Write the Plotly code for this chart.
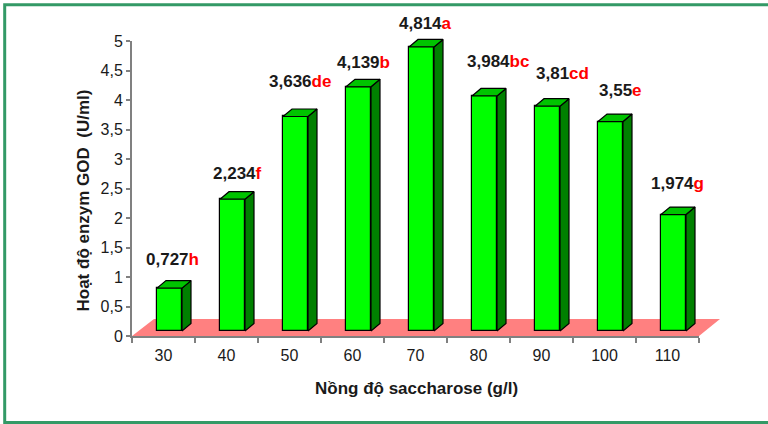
import plotly.graph_objects as go

# ---------------- data ----------------
categories = ["30", "40", "50", "60", "70", "80", "90", "100", "110"]
values = [0.727, 2.234, 3.636, 4.139, 4.814, 3.984, 3.81, 3.55, 1.974]
letters = ["h", "f", "de", "b", "a", "bc", "cd", "e", "g"]
y_ticks = [0, 0.5, 1, 1.5, 2, 2.5, 3, 3.5, 4, 4.5, 5]
y_ticktext = [str(t).replace(".", ",") if t != int(t) else str(int(t)) for t in y_ticks]

# ---------------- styling (pixel geometry) ----------------
W, H = 768, 424
AX_L, AX_R = 132, 699          # x axis pixel extent
Y0_PX, Y5_PX = 336, 41          # pixel of value 0 and 5
CAT_PX = (AX_R - AX_L) / len(categories)
VAL_PX = (Y0_PX - Y5_PX) / 5.0
BAR_SHIFT = 6        # bar front shifted right (px)
BAR_W = 25           # bar front width (px)
BAR_BASE = 5         # bar base above axis (px)
DEP_X, DEP_Y = 9, 7.5   # bar depth (px)
FLOOR_X, FLOOR_Y = 21, 17  # floor depth (px)
# label offsets relative to bar front top-centre (px)
label_dx = [3, 4.5, 4.5, 5, 3.5, 13.5, 15, 9.5, 4]
label_dy = [28.6, 25.2, 34.8, 24.3, 23.5, 34, 32.9, 30.7, 30.8]

FONT = "Arial, 'Liberation Sans', sans-serif"
AXIS_GRAY = "#808080"

px2x = lambda p: p / CAT_PX
px2y = lambda p: p / VAL_PX

n = len(categories)
b0 = px2y(BAR_BASE)
hw = px2x(BAR_W / 2)
dx, dy = px2x(DEP_X), px2y(DEP_Y)

fig = go.Figure()

# front faces: real bars
xs = [i + px2x(BAR_SHIFT) for i in range(n)]
fig.add_trace(go.Bar(
    x=xs, y=values, base=b0, width=2 * hw,
    marker=dict(color="#00FF00", line=dict(color="black", width=1.2)),
    hoverinfo="skip", showlegend=False, xaxis="x", yaxis="y",
))

# side and top faces
for i, v in enumerate(values):
    xl, xr = xs[i] - hw, xs[i] + hw
    top = b0 + v
    fig.add_trace(go.Scatter(
        x=[xr, xr + dx, xr + dx, xr, xr],
        y=[b0, b0 + dy, top + dy, top, b0],
        fill="toself", fillcolor="#008000", mode="lines",
        line=dict(color="black", width=1.2), hoverinfo="skip", showlegend=False,
    ))
    fig.add_trace(go.Scatter(
        x=[xl, xl + dx, xr + dx, xr, xl],
        y=[top, top + dy, top + dy, top, top],
        fill="toself", fillcolor="#00C400", mode="lines",
        line=dict(color="black", width=1.2), hoverinfo="skip", showlegend=False,
    ))

# invisible trace so the display axes show
fig.add_trace(go.Scatter(
    x=categories, y=[0] * n, mode="markers", marker=dict(opacity=0),
    xaxis="x2", yaxis="y2", hoverinfo="skip", showlegend=False,
))

# floor (below traces)
fl, fr = -0.5, n - 0.5
fig.add_shape(type="path", xref="x", yref="y", layer="below",
              path=f"M {fl},0 L {fr},0 L {fr + px2x(FLOOR_X)},{px2y(FLOOR_Y)} "
                   f"L {fl + px2x(FLOOR_X + 1)},{px2y(FLOOR_Y)} Z",
              fillcolor="#FF8080", line=dict(width=0))

# value labels
for i, (v, let) in enumerate(zip(values, letters)):
    txt = str(v).replace(".", ",")
    fig.add_annotation(
        x=xs[i] + px2x(label_dx[i]), y=b0 + v + px2y(label_dy[i]),
        xref="x", yref="y", showarrow=False, xanchor="center", yanchor="middle",
        text=f"<b>{txt}<span style='color:#FF0000'>{let}</span></b>",
        font=dict(family=FONT, size=17, color="#1a1a1a"),
    )

# axis titles
fig.add_annotation(x=416 / W, y=1 - 400 / H, xref="paper", yref="paper", showarrow=False,
                   text="<b>Nồng độ saccharose (g/l)</b>",
                   font=dict(family=FONT, size=17, color="#1a1a1a"))
fig.add_annotation(x=71 / W, y=1 - 201 / H, xref="paper", yref="paper", showarrow=False,
                   textangle=-90, text="<b>Hoạt độ enzym GOD  (U/ml)</b>",
                   font=dict(family=FONT, size=17, color="#1a1a1a"))

# green border (open on the right)
fig.add_shape(type="rect", xref="paper", yref="paper",
              x0=4.7 / W, x1=1.2, y0=1 - 422.5 / H, y1=1 - 4.7 / H,
              line=dict(color="#339966", width=3), fillcolor="rgba(0,0,0,0)")

fig.update_layout(
    template="none",
    width=W, height=H, margin=dict(l=0, r=0, t=0, b=0, pad=0, autoexpand=False),
    paper_bgcolor="white", plot_bgcolor="rgba(0,0,0,0)",
    font=dict(family=FONT, color="#1a1a1a"),
    showlegend=False,
    bargap=0,
    xaxis=dict(domain=[0, 1], range=[-0.5 - AX_L / CAT_PX, -0.5 + (W - AX_L) / CAT_PX],
               visible=False, fixedrange=True, automargin=False),
    yaxis=dict(domain=[0, 1], range=[(Y0_PX - H) / VAL_PX, Y0_PX / VAL_PX],
               visible=False, fixedrange=True, automargin=False),
    xaxis2=dict(domain=[AX_L / W, AX_R / W], anchor="y2", type="category",
                categoryorder="array", categoryarray=categories, automargin=False,
                tickson="boundaries", ticks="outside", ticklen=5, tickwidth=1.5,
                ticklabelstandoff=4,
                tickcolor=AXIS_GRAY, showline=True, linecolor=AXIS_GRAY, linewidth=2,
                showgrid=False, zeroline=False, range=[-0.5, n - 0.5],
                tickfont=dict(family=FONT, size=16, color="#1a1a1a"), fixedrange=True),
    yaxis2=dict(domain=[1 - Y0_PX / H, 1 - Y5_PX / H], anchor="x2", range=[0, 5],
                automargin=False,
                tickvals=y_ticks, ticktext=y_ticktext, ticks="outside", ticklen=4,
                tickwidth=1.5, tickcolor=AXIS_GRAY, showline=True, linecolor=AXIS_GRAY,
                linewidth=2, showgrid=False, zeroline=False,
                tickfont=dict(family=FONT, size=16, color="#1a1a1a"), fixedrange=True),
)

fig.write_html("out.html", config={"displayModeBar": False})
